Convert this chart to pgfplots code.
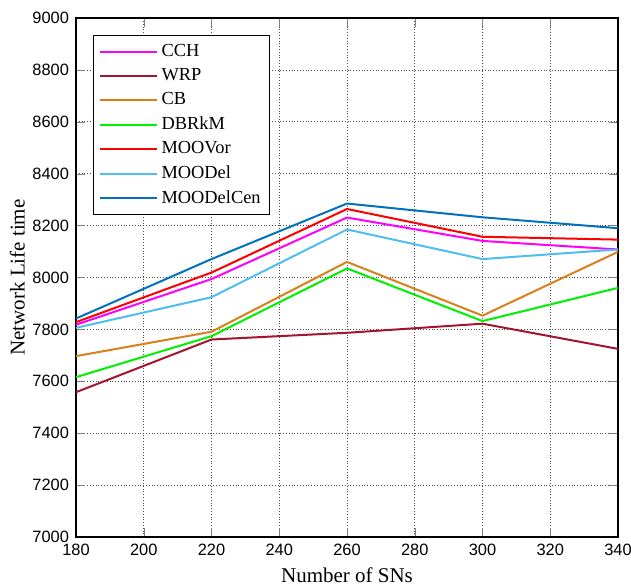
\documentclass[border=0pt]{standalone}
\usepackage{pgfplots}
\pgfplotsset{compat=1.18}
\usepackage{fontspec}
\setmainfont{Liberation Serif}
\newfontfamily\arialfont{Liberation Sans}
\definecolor{cch}{RGB}{255,0,255}
\definecolor{wrp}{RGB}{162,20,47}
\definecolor{cb}{RGB}{217,128,25}
\definecolor{dbr}{RGB}{0,240,0}
\definecolor{moovor}{RGB}{255,0,0}
\definecolor{moodel}{RGB}{77,190,238}
\definecolor{moocen}{RGB}{0,114,189}
\begin{document}
\begin{tikzpicture}
\begin{axis}[
	name=ax,
	scale only axis,
	width=271pt, height=259.5pt,
	xmin=180, xmax=340, ymin=7000, ymax=9000,
	xtick={180,200,...,340}, ytick={7000,7200,...,9000},
	tick align=inside, tick pos=both,
	grid=major,
	major grid style={densely dotted, gray!60!black, line width=0.4pt},
	axis line style={line width=0.8pt},
	tick label style={font=\arialfont\fontsize{8.2}{9}\selectfont},
	label style={font=\fontsize{10.5}{11}\selectfont},
	/pgf/number format/assume math mode=true,
	/pgf/number format/1000 sep={},
	xlabel={Number of SNs}, ylabel={Network Life time},
	xlabel style={yshift=1pt}, ylabel style={yshift=-3pt},
	every axis plot/.append style={line width=1pt, mark=none},
	legend style={at={(0.031,0.967)}, anchor=north west, font=\fontsize{9.2}{10}\selectfont,
		draw=black, line width=0.6pt, row sep=1.5pt, inner xsep=3pt, inner ysep=2.8pt,
		nodes={inner ysep=1.5pt, inner xsep=1.6pt}},
	legend cell align=left,
	legend image code/.code={\draw[#1, line width=1pt] (0cm,0cm) -- (1cm,0cm);},
]
\addplot[cch] coordinates {(180,7818) (220,7994) (260,8231) (300,8141) (340,8108)};
\addlegendentry{CCH}
\addplot[wrp] coordinates {(180,7558) (220,7761) (260,7787) (300,7822) (340,7725)};
\addlegendentry{WRP}
\addplot[cb] coordinates {(180,7697) (220,7791) (260,8060) (300,7853) (340,8099)};
\addlegendentry{CB}
\addplot[dbr] coordinates {(180,7616) (220,7774) (260,8035) (300,7832) (340,7960)};
\addlegendentry{DBRkM}
\addplot[moovor] coordinates {(180,7828) (220,8019) (260,8264) (300,8157) (340,8146)};
\addlegendentry{MOOVor}
\addplot[moodel] coordinates {(180,7806) (220,7924) (260,8185) (300,8071) (340,8108)};
\addlegendentry{MOODel}
\addplot[moocen] coordinates {(180,7842) (220,8071) (260,8285) (300,8232) (340,8190)};
\addlegendentry{MOODelCen}
\end{axis}
\pgfresetboundingbox
\path[use as bounding box] ([shift={(-38pt,-23.5pt)}]ax.south west) rectangle ([shift={(6.5pt,9pt)}]ax.north east);
\end{tikzpicture}
\end{document}
